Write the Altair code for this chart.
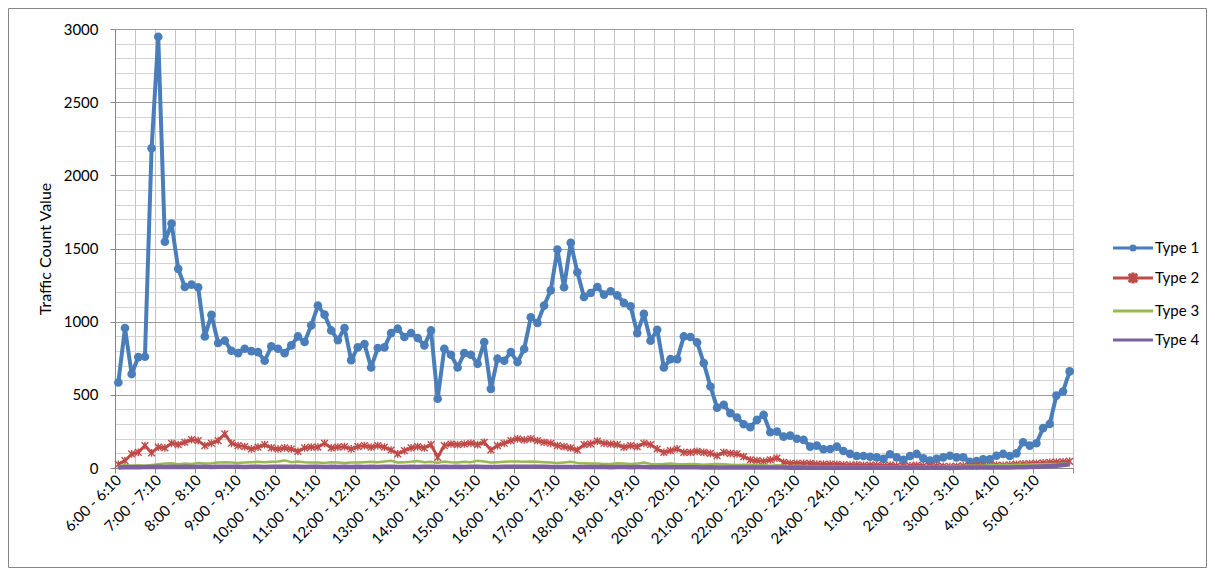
import json
import altair as alt
import pandas as pd

# ---------------- data ----------------
hours = [6, 7, 8, 9, 10, 11, 12, 13, 14, 15, 16, 17, 18, 19, 20, 21, 22, 23, 24, 1, 2, 3, 4, 5]
minutes = [0, 10, 20, 30, 40, 50]

categories = []
for k, h in enumerate(hours):
    nxt = hours[(k + 1) % len(hours)]
    for m in minutes:
        end = f"{h}:{m + 10:02d}" if m < 50 else f"{nxt}:00"
        categories.append(f"{h}:{m:02d} - {end}")
tick_labels = categories[::6]

types = ["Type 1", "Type 2", "Type 3", "Type 4"]
colors = ["#4a7ebb", "#be4b48", "#98b954", "#7d60a0"]

type1 = [584, 957, 642, 758, 760, 2185, 2947, 1546, 1671, 1361, 1238, 1253,
         1235, 899, 1046, 854, 870, 801, 785, 815, 799, 792, 733, 831,
         815, 785, 838, 899, 861, 975, 1110, 1048, 940, 874, 957, 737,
         824, 847, 687, 820, 824, 922, 952, 895, 922, 888, 838, 940,
         473, 815, 774, 687, 785, 774, 712, 861, 541, 747, 733, 792,
         724, 813, 1030, 991, 1110, 1214, 1493, 1235, 1539, 1338, 1169, 1196,
         1237, 1185, 1208, 1180, 1128, 1105, 922, 1053, 870, 945, 687, 744,
         744, 899, 895, 858, 717, 557, 413, 432, 375, 345, 299, 279,
         329, 363, 244, 249, 214, 221, 200, 192, 146, 153, 128, 130,
         146, 116, 96, 82, 82, 77, 73, 62, 94, 73, 55, 82,
         96, 66, 50, 62, 73, 84, 73, 73, 43, 47, 59, 59,
         84, 96, 82, 100, 176, 153, 169, 272, 301, 495, 523, 660]

type2 = [25, 50, 96, 107, 153, 103, 142, 137, 169, 160, 176, 194,
         187, 153, 169, 187, 233, 169, 153, 146, 130, 142, 160, 137,
         130, 137, 130, 114, 137, 142, 142, 169, 137, 142, 146, 130,
         146, 153, 142, 153, 142, 123, 96, 119, 137, 146, 137, 160,
         73, 153, 164, 160, 164, 169, 160, 176, 123, 153, 169, 187,
         199, 192, 199, 187, 176, 169, 153, 146, 137, 123, 160, 165,
         183, 169, 164, 160, 142, 153, 146, 169, 160, 130, 107, 119,
         130, 107, 107, 114, 107, 100, 84, 107, 100, 96, 78, 55,
         50, 46, 55, 68, 39, 32, 32, 32, 32, 27, 27, 27,
         25, 22, 20, 22, 18, 20, 18, 15, 20, 15, 12, 15,
         18, 15, 12, 15, 12, 10, 12, 15, 12, 15, 18, 15,
         20, 18, 22, 25, 28, 30, 32, 35, 38, 40, 42, 45]

type3 = [10, 20, 15, 18, 15, 20, 25, 30, 32, 25, 30, 28,
         35, 30, 32, 38, 40, 38, 35, 38, 40, 42, 40, 42,
         45, 52, 40, 45, 40, 38, 38, 35, 40, 38, 35, 38,
         38, 40, 42, 40, 45, 50, 38, 40, 42, 48, 40, 42,
         35, 45, 40, 38, 42, 40, 50, 45, 38, 40, 42, 45,
         45, 42, 45, 42, 40, 38, 35, 38, 42, 35, 32, 30,
         30, 28, 28, 32, 30, 28, 30, 38, 28, 25, 28, 30,
         25, 25, 28, 25, 22, 25, 28, 25, 22, 20, 22, 20,
         18, 18, 15, 18, 15, 12, 15, 12, 10, 12, 10, 10,
         10, 10, 8, 8, 10, 8, 8, 10, 8, 8, 10, 8,
         8, 10, 10, 8, 10, 12, 12, 14, 15, 15, 16, 18,
         18, 20, 20, 22, 22, 24, 25, 26, 28, 28, 30, 32]

type4 = [3, 5, 6, 5, 6, 7, 8, 7, 8, 7, 8, 7,
         8, 8, 7, 8, 9, 8, 8, 7, 8, 8, 7, 8,
         8, 9, 8, 8, 7, 8, 8, 7, 8, 7, 8, 7,
         8, 7, 8, 7, 8, 8, 7, 7, 8, 7, 8, 8,
         6, 8, 7, 8, 7, 8, 8, 7, 6, 7, 8, 8,
         9, 8, 9, 8, 8, 7, 7, 6, 7, 6, 6, 6,
         6, 6, 5, 6, 6, 5, 6, 6, 5, 5, 6, 5,
         5, 5, 5, 5, 4, 5, 4, 4, 4, 4, 3, 4,
         3, 3, 3, 3, 3, 2, 3, 2, 2, 2, 2, 2,
         2, 2, 2, 2, 2, 2, 2, 2, 2, 2, 2, 2,
         2, 2, 2, 2, 2, 2, 2, 3, 3, 3, 3, 3,
         4, 4, 4, 5, 5, 6, 8, 10, 12, 15, 20, 25]

series = [type1, type2, type3, type4]

rows = []
for t, vals in zip(types, series):
    for i, v in enumerate(vals):
        rows.append({"i": i, "slot": categories[i], "type": t, "value": v})
df = pd.DataFrame(rows)

# ---------------- scales / axes ----------------
n = len(categories)
x_domain = [-0.5, n - 0.5]
grid_values = [-0.5 + 3 * k for k in range(n // 3 + 1)]
tick_values = [-0.5 + 6 * k for k in range(n // 6 + 1)]
label_values = list(range(0, n, 6))
y_minor = list(range(0, 3001, 100))
y_major = list(range(0, 3001, 500))

FONT = "Lato"
AXIS_GREY = "#868686"

x_scale = alt.Scale(domain=x_domain, nice=False, zero=False)
y_scale = alt.Scale(domain=[0, 3000], nice=False)
color_scale = alt.Scale(domain=types, range=colors)


def xenc(axis):
    return alt.X("i:Q", scale=x_scale, axis=axis)


def yenc(axis):
    return alt.Y("value:Q", scale=y_scale, axis=axis)


color_enc = alt.Color("type:N", scale=color_scale, legend=None)

ax_xgrid = alt.Axis(orient="bottom", values=grid_values, grid=True, gridColor="#c4c4c4",
                    labels=False, ticks=False, domain=False, title=None)
ax_xticks = alt.Axis(orient="bottom", values=tick_values, grid=False, labels=False,
                     ticks=True, tickSize=5, tickColor=AXIS_GREY, domain=True,
                     domainColor=AXIS_GREY, title=None)
label_expr = f"{json.dumps(tick_labels)}[round(datum.value / 6)]"
ax_xlabels = alt.Axis(orient="bottom", values=label_values, grid=False, ticks=False,
                      domain=False, labelAngle=315, labelAlign="right",
                      labelBaseline="middle", labelPadding=9, labelFont=FONT,
                      labelFontSize=15, labelColor="#000000", labelOverlap=False,
                      labelFlush=False, labelExpr=label_expr, title=None)
ax_yminor = alt.Axis(orient="left", values=y_minor, grid=True, gridColor="#d2d2d2",
                     labels=False, ticks=False, domain=False, title=None)
ax_ymajor = alt.Axis(orient="left", values=y_major, grid=True, gridColor="#9c9c9c",
                     labels=True, ticks=True, tickSize=5, tickColor=AXIS_GREY,
                     domain=True, domainColor=AXIS_GREY, labelPadding=12, format="d",
                     labelFont=FONT, labelFontSize=15, labelColor="#000000",
                     title="Traffic Count Value", titleFont=FONT, titleFontSize=16,
                     titleFontWeight="normal", titleColor="#000000", titlePadding=10)

star_path = "M-1,-1L1,1M-1,1L1,-1M0,-1.15V1.15"
legend_paths = [
    "M-2,0H2M-0.2,0A0.2,0.2 0 1,0 0.2,0A0.2,0.2 0 1,0 -0.2,0Z",
    "M-2,0H2M-0.42,-0.42L0.42,0.42M-0.42,0.42L0.42,-0.42M0,-0.55V0.55",
    "M-2,0H2",
    "M-2,0H2",
]

base = alt.Chart(df)


def only(t):
    return alt.datum.type == t


line1 = base.transform_filter(only("Type 1")).mark_line(strokeWidth=4, strokeJoin="round").encode(
    x=xenc(ax_xgrid), y=yenc(ax_yminor), color=color_enc)
pts1 = base.transform_filter(only("Type 1")).mark_point(
    filled=True, shape="circle", size=75, opacity=1).encode(
    x=xenc(None), y=yenc(None), color=color_enc)
line2 = base.transform_filter(only("Type 2")).mark_line(strokeWidth=3, strokeJoin="round").encode(
    x=xenc(ax_xticks), y=yenc(ax_ymajor), color=color_enc)
pts2 = base.transform_filter(only("Type 2")).mark_point(
    filled=False, shape=star_path, size=45, strokeWidth=1.4, opacity=1).encode(
    x=xenc(None), y=yenc(None), color=color_enc)
line3 = base.transform_filter(only("Type 3")).mark_line(strokeWidth=2.5, strokeJoin="round").encode(
    x=xenc(ax_xlabels), y=yenc(None), color=color_enc)
line4 = base.transform_filter(only("Type 4")).mark_line(strokeWidth=4.5, strokeJoin="round").encode(
    x=xenc(None), y=yenc(None), color=color_enc)

legend_def = alt.Legend(title=" ", titleFontSize=10, titlePadding=197,
                        orient="right", offset=48,
                        symbolSize=400, symbolStrokeWidth=3.2, symbolOpacity=1,
                        labelFont=FONT, labelFontSize=15, labelColor="#000000",
                        labelOffset=10, rowPadding=9, padding=0)
legend_df = pd.DataFrame({"type": types, "i": [-100] * 4, "value": [-100] * 4})
legend_layer = alt.Chart(legend_df).mark_point(
    filled=False, opacity=1, strokeWidth=3.2, clip=True).encode(
    x=xenc(None), y=yenc(None),
    shape=alt.Shape("type:N", scale=alt.Scale(domain=types, range=legend_paths), legend=legend_def),
    color=alt.Color("type:N", scale=color_scale, legend=legend_def),
)

border = alt.Chart(pd.DataFrame({"b": [0]})).mark_rect(
    fillOpacity=0, stroke=AXIS_GREY, strokeWidth=1).encode(
    x=alt.value(-106.5), x2=alt.value(1091.5), y=alt.value(-20.5), y2=alt.value(538.5))

chart = alt.layer(border, line1, pts1, line2, pts2, line3, line4, legend_layer).resolve_axis(
    x="independent", y="independent"
).resolve_legend(color="independent", shape="independent").properties(
    width=958, height=439,
    padding={"left": 107, "top": 21, "right": 134, "bottom": 100},
    autosize=alt.AutoSizeParams(type="none"),
).configure_view(strokeWidth=0)

chart.save("out.html", embed_options={"renderer": "svg", "actions": False})
